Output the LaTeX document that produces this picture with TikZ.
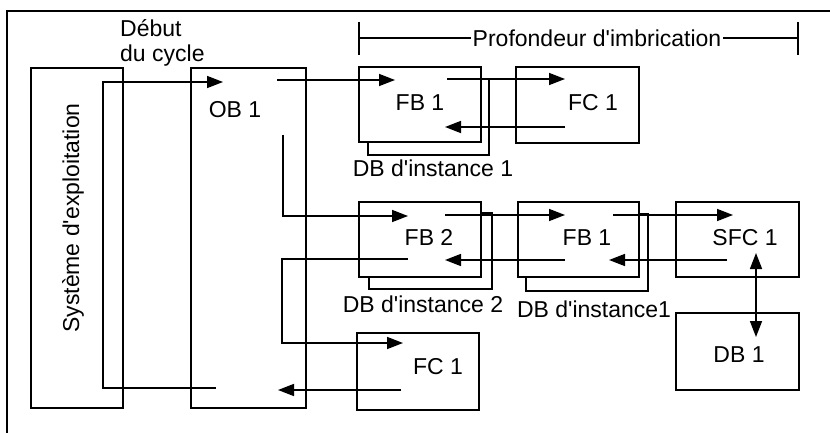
\documentclass[tikz,border=0pt]{standalone}
\usepackage{fontspec}
\setmainfont{Liberation Sans}
\usetikzlibrary{arrows.meta}

\tikzset{
  box/.style={draw,line width=1.6pt,fill=white,inner sep=0pt},
  lbl/.style={font=\fontsize{23}{27}\selectfont,inner sep=0pt},
  ln/.style={line width=1.6pt},
  arr/.style={line width=1.6pt,-{Triangle[length=16pt,width=12pt]}},
  darr/.style={line width=1.6pt,{Triangle[length=16pt,width=12pt]}-{Triangle[length=16pt,width=12pt]}},
}
\newcommand\ap{\textquotesingle}

\begin{document}
\begin{tikzpicture}[x=1pt,y=-1pt]
\useasboundingbox (0,0) rectangle (830,433);

% frame
\draw[ln] (7,433) -- (7,11) -- (830,11);

% blocks
\node[box,minimum width=92pt,minimum height=340pt] (os) at (77,238) {};
\node[box,minimum width=115pt,minimum height=340pt] (ob) at (248.5,238) {};

\node[box,minimum width=121pt,minimum height=76pt] (dbiA) at (428.5,117) {};
\node[box,minimum width=122pt,minimum height=75pt] (fbA) at (420,104.5) {};
\node[box,minimum width=123pt,minimum height=76pt] (fcA) at (577.5,105) {};

\node[box,minimum width=123pt,minimum height=76pt] (dbiB) at (430.5,251) {};
\node[box,minimum width=122pt,minimum height=75pt] (fbB) at (420,239.5) {};
\node[box,minimum width=122pt,minimum height=77pt] (dbiC) at (587,252.5) {};
\node[box,minimum width=121pt,minimum height=75pt] (fbC) at (578.5,239.5) {};
\node[box,minimum width=123pt,minimum height=75pt] (sfc) at (737.5,239.5) {};
\node[box,minimum width=123pt,minimum height=77pt] (db) at (737.5,351.5) {};
\node[box,minimum width=122pt,minimum height=77pt] (fcB) at (418,371.5) {};

% texts
\node[lbl,rotate=90,anchor=base] (ostxt) at (79,218) {Système d\ap exploitation};
\node[lbl,anchor=base west] (debutA) at (120,37) {Début};
\node[lbl,anchor=base west] (debutB) at (120,62) {du cycle};
\node[lbl] (obtxt) at (235,110) {OB 1};
\node[lbl] (fbAtxt) at (420,103) {FB 1};
\node[lbl] (fcAtxt) at (593,103) {FC 1};
\node[lbl] (dbiAtxt) at (433,168) {DB d\ap instance 1};
\node[lbl] (fbBtxt) at (429,237) {FB 2};
\node[lbl] (fbCtxt) at (587,238) {FB 1};
\node[lbl] (sfctxt) at (745,238) {SFC 1};
\node[lbl] (dbiBtxt) at (423,304) {DB d\ap instance 2};
\node[lbl] (dbiCtxt) at (594,309) {DB d\ap instance1};
\node[lbl] (dbtxt) at (739,355) {DB 1};
\node[lbl] (fcBtxt) at (438,367) {FC 1};

% nesting depth
\node[lbl,inner sep=2pt] (prof) at (597,38) {Profondeur d\ap imbrication};
\coordinate (profL) at (359,38);
\coordinate (profR) at (798,38);
\draw[ln] (359,22) -- (359,55);
\draw[ln] (798,22) -- (798,55);
\draw[ln] (profL) -- (prof.west);
\draw[ln] (prof.east) -- (profR);

% call points
\coordinate (obback) at (216,388);
\coordinate (obin) at (223,82);
\coordinate (obA) at (277,80);
\coordinate (fbAin) at (395,80);
\coordinate (fbAout) at (447,79);
\coordinate (fcAin) at (565,79);
\coordinate (fcAret) at (565,127);
\coordinate (fbAret) at (445,127);
\coordinate (obB) at (283,135);
\coordinate (fbBin) at (408,216);
\coordinate (fbBout) at (445,215);
\coordinate (fbCin) at (565,215);
\coordinate (fbCret) at (565,260);
\coordinate (fbBret) at (445,260);
\coordinate (fbCout) at (613,215);
\coordinate (sfcin) at (733,215);
\coordinate (sfcret) at (727,260);
\coordinate (fbCback) at (609,260);
\coordinate (sfcdb) at (756,253);
\coordinate (dbin) at (756,337);
\coordinate (fbBcall) at (408,259);
\coordinate (fcBin) at (403,343);
\coordinate (fcBret) at (401,390);
\coordinate (obret) at (278,390);

% calls and returns
\draw[arr] (obback) -- ++(-113,0) |- (obin);
\draw[arr] (obA) -- (fbAin);
\draw[arr] (fbAout) -- (fcAin);
\draw[arr] (fcAret) -- (fbAret);
\draw[arr] (obB) |- (fbBin);
\draw[arr] (fbBout) -- (fbCin);
\draw[arr] (fbCret) -- (fbBret);
\draw[arr] (fbCout) -- (sfcin);
\draw[arr] (sfcret) -- (fbCback);
\draw[darr] (sfcdb) -- (dbin);
\draw[arr] (fbBcall) -- ++(-126,0) |- (fcBin);
\draw[arr] (fcBret) -- (obret);
\end{tikzpicture}
\end{document}
